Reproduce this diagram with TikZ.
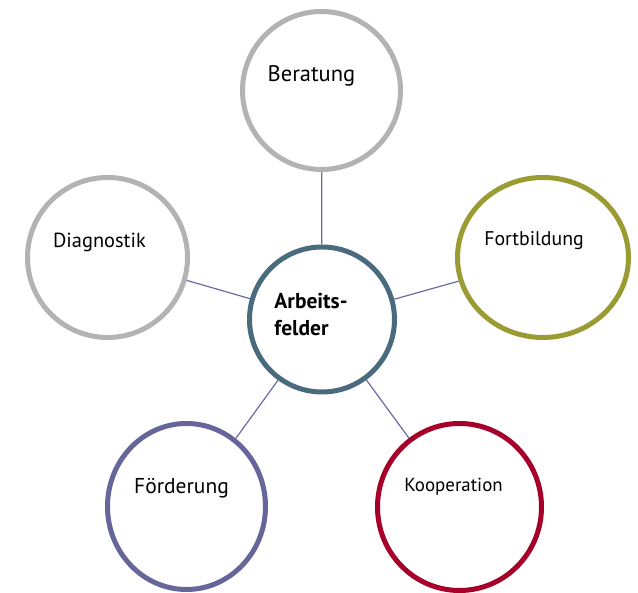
\documentclass[tikz,border=0pt]{standalone}
\usepackage{fontspec}
\setmainfont{PT Sans}
\usepackage{tikz}
\usetikzlibrary{shapes.geometric, positioning}
\definecolor{fieldgrey}{HTML}{B3B3B3}
\definecolor{hubblue}{HTML}{4A6A7E}
\definecolor{olive}{HTML}{9B9B34}
\definecolor{violet}{HTML}{66669A}
\definecolor{wine}{HTML}{A6002A}
\definecolor{linkblue}{HTML}{6B6BA3}
\tikzstyle{field} = [ellipse, draw, line width=5pt, fill=white, inner sep=0pt]
\tikzstyle{hub} = [field, draw=hubblue, minimum size=145pt]
\tikzstyle{link} = [line width=1.2pt, draw=linkblue]

\begin{document}
\begin{tikzpicture}[x=1pt, y=1pt]
\useasboundingbox (0,0) rectangle (638,593);
\node (arbeitsfelder) [hub] at (322,273.5) {};
\node [font=\fontsize{21.5}{27}\selectfont\bfseries, align=left] at ([xshift=-11pt,yshift=5pt]arbeitsfelder.center) {Arbeits-\\felder};
\node (beratung) [field, draw=fieldgrey, minimum size=158pt,
  label={[xshift=-10pt,yshift=15pt, font=\fontsize{22.5}{26}\selectfont]center:Beratung}] at (321.5,502.5) {};
\node (diagnostik) [field, draw=fieldgrey, minimum size=160pt,
  label={[xshift=-8pt,yshift=15pt, font=\fontsize{20.4}{24}\selectfont]center:Diagnostik}] at (107.5,335.5) {};
\node (fortbildung) [field, draw=olive, minimum width=171pt, minimum height=160pt,
  label={[xshift=-9pt,yshift=17pt, font=\fontsize{19.8}{24}\selectfont]center:Fortbildung}] at (543,335.5) {};
\node (foerderung) [field, draw=violet, minimum width=158pt, minimum height=166pt,
  label={[xshift=-5pt,yshift=18pt, font=\fontsize{21.5}{25}\selectfont]center:Förderung}] at (186.5,86.5) {};
\node (kooperation) [field, draw=wine, minimum width=164pt, minimum height=167pt,
  label={[xshift=-6pt,yshift=20pt, font=\fontsize{18.9}{22}\selectfont]center:Kooperation}] at (459.5,86) {};

\draw [link] (beratung) -- (arbeitsfelder);
\draw [link] (diagnostik) -- (arbeitsfelder);
\draw [link] (fortbildung) -- (arbeitsfelder);
\draw [link] (foerderung) -- (arbeitsfelder);
\draw [link] (kooperation) -- (arbeitsfelder);
\end{tikzpicture}
\end{document}
